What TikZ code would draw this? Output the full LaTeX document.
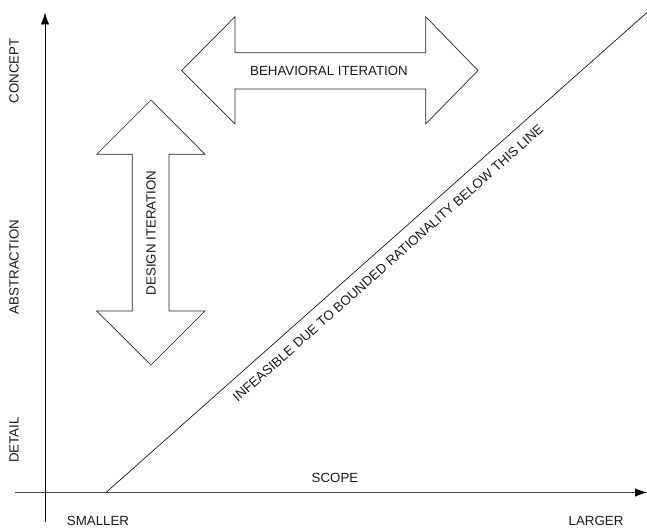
\documentclass[tikz,border=0pt]{standalone}
\usepackage{fontspec}
\setmainfont{Liberation Sans}
\usetikzlibrary{arrows.meta}
\begin{document}
\begin{tikzpicture}[x=1pt,y=-1pt,
  lbl/.style={font=\fontsize{13.3}{16}\selectfont, inner sep=0pt, text=black!90},
  axisline/.style={line width=0.8pt, -{Latex[length=12pt,width=8.5pt,color=black]}},
  blockarrow/.style={draw=black!85, line width=0.7pt, fill=white}]
\useasboundingbox (0,0) rectangle (647,529);
% axes
\coordinate (vbot) at (45,522);
\coordinate (vtop) at (45,12.5);
\coordinate (hleft) at (15,492.5);
\coordinate (hright) at (647,492.5);
\draw[axisline] (vbot) -- (vtop);
\draw[axisline, draw=black!70] (hleft) -- (hright);
% diagonal feasibility line
\coordinate (d0) at (106,492.5);
\coordinate (d1) at (647,12.5);
\draw[line width=0.6pt] (d0) -- (d1);
% axis labels
\node[lbl, rotate=90] (concept) at (14,71) {CONCEPT};
\node[lbl, rotate=90] (abstraction) at (14,267) {ABSTRACTION};
\node[lbl, rotate=90] (detail) at (14,440) {DETAIL};
\node[lbl] (scope) at (335,478) {SCOPE};
\node[lbl] (smaller) at (98,521) {SMALLER};
\node[lbl] (larger) at (596,521) {LARGER};
% behavioral iteration arrow
\draw[blockarrow] (181.7,70.5) -- (235,16.7) -- (235,52.7) -- (425.7,52.7) -- (425.7,16.7)
  -- (478,70.5) -- (425.7,124) -- (425.7,89) -- (235,89) -- (235,124) -- cycle;
\node[lbl] (behav) at (329,71) {BEHAVIORAL ITERATION};
% design iteration arrow
\draw[blockarrow] (151,100) -- (205,154.3) -- (169,154.3) -- (169,311) -- (205,311)
  -- (151,365) -- (96.7,311) -- (132.3,311) -- (132.3,154.3) -- (96.7,154.3) -- cycle;
\node[lbl, rotate=90] (design) at (151,233) {DESIGN ITERATION};
% diagonal text
\node[lbl, rotate=41.57] (infeasible) at (388,263) {INFEASIBLE DUE TO BOUNDED RATIONALITY BELOW THIS LINE};
\end{tikzpicture}
\end{document}
